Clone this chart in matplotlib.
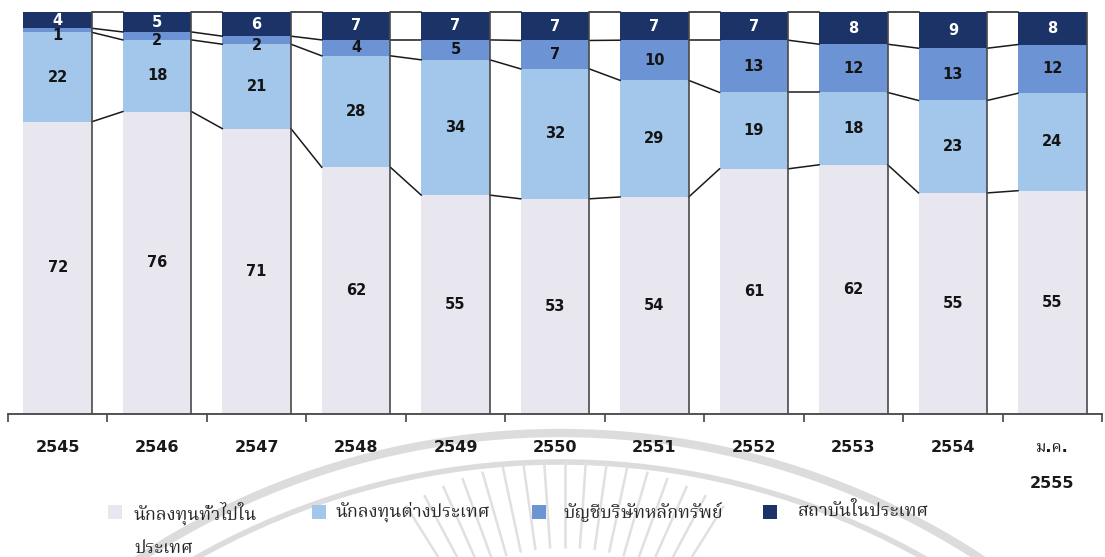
import numpy as np
import matplotlib
matplotlib.use("Agg")
import matplotlib.pyplot as plt
from matplotlib import font_manager
from matplotlib.patches import Circle, Rectangle

# share of trading value by investor type (%)
years = ["2545", "2546", "2547", "2548", "2549", "2550",
         "2551", "2552", "2553", "2554", "ม.ค.\n2555"]
local_investors = [72, 76, 71, 62, 55, 53, 54, 61, 62, 55, 55]
foreign_investors = [22, 18, 21, 28, 34, 32, 29, 19, 18, 23, 24]
broker_accounts = [1, 2, 2, 4, 5, 7, 10, 13, 12, 13, 12]
institutions = [4, 5, 6, 7, 7, 7, 7, 7, 8, 9, 8]

series_names = ["นักลงทุนทั่วไปใน\nประเทศ", "นักลงทุนต่างประเทศ",
                "บัญชีบริษัทหลักทรัพย์", "สถาบันในประเทศ"]
series_colors = ["#e8e7ef", "#a2c7ea", "#6c93d4", "#1b3366"]
label_colors = ["#141414", "#141414", "#141414", "#ffffff"]

# pick an installed Thai face, serif first
installed = {f.name for f in font_manager.fontManager.ttflist}
thai_font = next((f for f in ["Noto Serif Thai", "Taviraj", "Trirong", "Pridi",
                              "Sarabun", "Noto Sans Thai", "Athiti", "Anuphan"]
                  if f in installed), "DejaVu Sans")

W, H = 1105, 557
fig = plt.figure(figsize=(W / 100, H / 100), dpi=100)

# faint seal printed behind the page
bg = fig.add_axes([0, 0, 1, 1], zorder=0)
bg.set_xlim(0, W)
bg.set_ylim(H, 0)
bg.axis("off")
seal = "#dcdcdc"
bg.add_patch(Circle((560, 1200), 767, fill=False, lw=6, ec=seal, zorder=1))
bg.add_patch(Circle((560, 1200), 738, fill=False, lw=4, ec=seal, zorder=1))
for ang in np.radians(np.arange(58, 123, 4)):
    r = np.array([212, 300])
    bg.plot(565 + r * np.cos(ang), 760 - r * np.sin(ang), color="#e0e0e0",
            lw=1.8, solid_capstyle="butt", zorder=1)

ax = fig.add_axes([8 / W, 143 / H, 1094 / W, 414 / H], zorder=1)
ax.patch.set_alpha(0)

x = np.arange(len(years))
width = 0.69
stack = [np.array(s, dtype=float) for s in
         (local_investors, foreign_investors, broker_accounts, institutions)]
totals = sum(stack)

# 100% stacked: each bar scaled to its own total
bottom = np.zeros(len(years))
levels = []
for vals, color, lc in zip(stack, series_colors, label_colors):
    share = vals / totals * 100
    ax.bar(x, share, width, bottom=bottom, color=color, linewidth=0, zorder=2)
    for xi, b, s, v in zip(x, bottom, share, vals):
        y = b + s / 2 - (1.2 if v < 3 else 0)
        ax.text(xi, y, f"{v:.0f}", ha="center", va="center",
                fontsize=10.5, fontweight="bold", color=lc, zorder=4)
    bottom = bottom + share
    levels.append(bottom.copy())

# series lines joining the segment boundaries of neighbouring bars
for lev in levels:
    for i in range(len(years) - 1):
        ax.plot([x[i] + width / 2, x[i + 1] - width / 2], [lev[i], lev[i + 1]],
                color="#1a1a1a", lw=1.1, zorder=3)

# dark shadow edge on the right of each bar
ax.vlines(x + width / 2, 0, levels[-1], color="#4a4a4a", lw=1.2, zorder=3)

ax.set_xlim(-0.49, len(years) - 0.53)
ax.set_ylim(0, 103)
for side in ["left", "right", "top"]:
    ax.spines[side].set_visible(False)
ax.spines["bottom"].set_color("#444444")
ax.spines["bottom"].set_linewidth(1.3)
ax.set_yticks([])
ax.set_xticks(x)
ax.set_xticklabels(years, fontsize=11.5, fontweight="bold", color="#1a1a1a",
                   family=["DejaVu Sans", thai_font], linespacing=2.75, va="top")
ax.tick_params(axis="x", which="major", length=0, pad=19)
ax.set_xticks(np.arange(-0.5, len(years)), minor=True)
ax.tick_params(axis="x", which="minor", length=6, width=1.2, color="#444444",
               direction="out")

# legend row beneath the axis
marker_x = [108, 312, 532, 763]
text_x = [134, 336, 563, 798]
for mx, tx, name, color in zip(marker_x, text_x, series_names, series_colors):
    bg.add_patch(Rectangle((mx, 505), 14, 14, color=color, lw=0, zorder=3))
    bg.text(tx, 502, name, ha="left", va="top", fontsize=13, zorder=3,
            family=[thai_font, "DejaVu Sans"], color="#262626", linespacing=2.0)

fig.savefig("out.png", dpi=100)
